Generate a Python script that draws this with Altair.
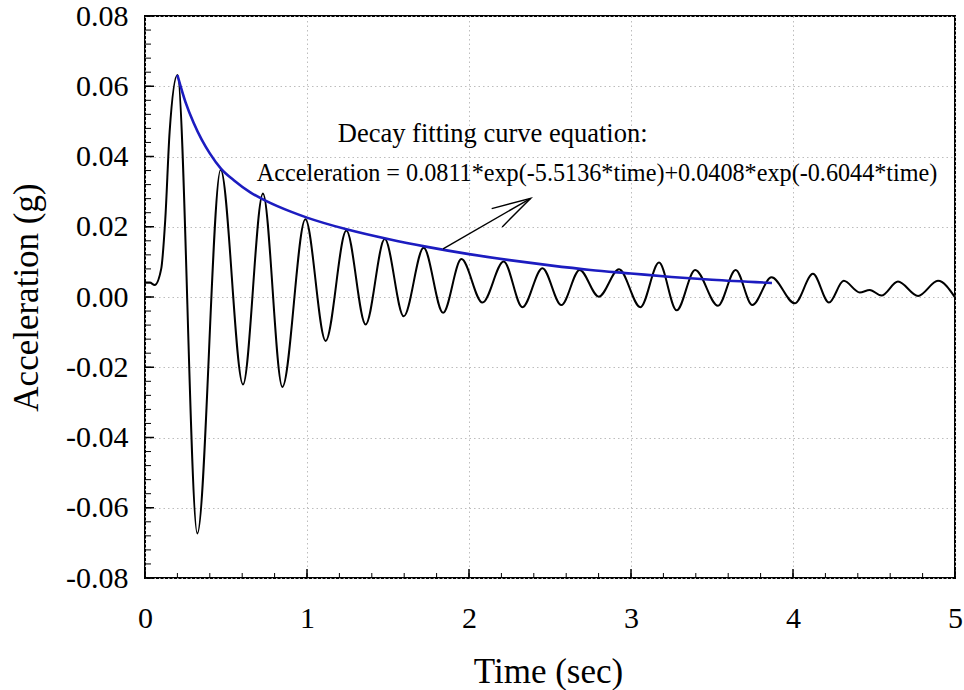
import altair as alt
import pandas as pd

# ---- data ----
# measured acceleration signal (time in sec, acceleration in g) - extrema and shape points
sig_t = [0.0, 0.03, 0.06, 0.10, 0.125, 0.152, 0.200, 0.323, 0.467, 0.605, 0.728, 0.848,
         0.990, 1.115, 1.243, 1.362, 1.480, 1.597, 1.720, 1.840, 1.953, 2.083, 2.214,
         2.330, 2.453, 2.570, 2.683, 2.801, 2.926, 3.058, 3.173, 3.282, 3.396, 3.537,
         3.646, 3.749, 3.867, 4.011, 4.123, 4.222, 4.313, 4.412, 4.474, 4.546, 4.648,
         4.772, 4.895, 5.0]
sig_v = [0.0041, 0.0041, 0.0034, 0.0080, 0.0220, 0.0470, 0.0632, -0.0673, 0.0362, -0.0249,
         0.0295, -0.0256, 0.0221, -0.0125, 0.0189, -0.0078, 0.0165, -0.0055, 0.0140,
         -0.0045, 0.0108, -0.0016, 0.0101, -0.0029, 0.0082, -0.0023, 0.0077, 0.0001,
         0.0079, -0.0029, 0.0098, -0.0038, 0.0077, -0.0025, 0.0077, -0.0023, 0.0056,
         -0.0018, 0.0066, -0.0016, 0.0046, 0.0013, 0.0020, 0.0004, 0.0044, 0.0003,
         0.0046, -0.0001]

# decay fitting curve (blue)
fit_t = [0.20, 0.25, 0.30, 0.35, 0.40, 0.47, 0.55, 0.65, 0.75, 0.90, 1.00, 1.25, 1.50,
         1.75, 2.00, 2.25, 2.50, 2.75, 3.00, 3.25, 3.50, 3.87]
fit_v = [0.0632, 0.0555, 0.0496, 0.0448, 0.0409, 0.0365, 0.0332, 0.0298, 0.0273, 0.0243,
         0.0226, 0.0192, 0.0165, 0.0142, 0.0122, 0.0105, 0.0090, 0.0077, 0.0067, 0.0057,
         0.0049, 0.0040]

# annotation
note_text = ["Decay fitting curve equation:",
             "Acceleration = 0.0811*exp(-5.5136*time)+0.0408*exp(-0.6044*time)"]
note_t = [1.190, 0.690]
note_v = [0.0440, 0.0331]
arrow_t = [1.840, 2.381]
arrow_v = [0.0137, 0.0281]

# axes
x_major = [0, 1, 2, 3, 4, 5]
x_minor = [round(i * 0.2, 2) for i in range(26)]
y_major = [-0.08, -0.06, -0.04, -0.02, 0.0, 0.02, 0.04, 0.06, 0.08]
y_minor = [round(-0.08 + i * 0.004, 3) for i in range(41)]

FONT = "Liberation Serif"
W, H = 810, 562

xs = alt.Scale(domain=[0, 5], nice=False, zero=False)
ys = alt.Scale(domain=[-0.08, 0.08], nice=False, zero=False)

sig = pd.DataFrame({"t": sig_t, "v": sig_v})
fit = pd.DataFrame({"t": fit_t, "v": fit_v})
arrow = pd.DataFrame({"t": arrow_t, "v": arrow_v})
notes = pd.DataFrame({"t": note_t, "v": note_v, "text": note_text})

x_axis = alt.Axis(values=x_major, format="d", grid=True, ticks=False, tickSize=0,
                  domain=False, labelFont=FONT, labelFontSize=30, labelColor="black",
                  labelPadding=25, labelBaseline="top", labelFlush=False, labelOverlap=False,
                  title="Time (sec)", titleFont=FONT, titleFontSize=35,
                  titleFontWeight="normal", titleColor="black",
                  titleX=403, titleY=104, titleBaseline="alphabetic", titleAlign="center",
                  gridColor="#bdbdbd", gridDash=[1.5, 3], gridWidth=1)
y_axis = alt.Axis(values=y_major, grid=True, ticks=False, tickSize=0, domain=False,
                  labelExpr="(datum.value < -0.000001 ? '-' : '') + format(abs(datum.value), '.2f')",
                  labelFont=FONT, labelFontSize=30, labelColor="black", labelPadding=17,
                  labelFlush=False, labelOverlap=False,
                  title="Acceleration (g)", titleFont=FONT, titleFontSize=35,
                  titleFontWeight="normal", titleColor="black", titleAngle=-90,
                  titleX=-108, titleY=281, titleBaseline="alphabetic", titleAlign="center",
                  gridColor="#bdbdbd", gridDash=[1.5, 3], gridWidth=1)

X = alt.X("t:Q", scale=xs, axis=x_axis)
Y = alt.Y("v:Q", scale=ys, axis=y_axis)

signal = alt.Chart(sig).mark_line(color="black", strokeWidth=2, interpolate="monotone").encode(x=X, y=Y)

fitline = alt.Chart(fit).mark_line(color="#1c1cc0", strokeWidth=2.6, interpolate="monotone").encode(x=X, y=Y)

shaft = alt.Chart(arrow).mark_line(color="black", strokeWidth=1.4).encode(x=X, y=Y)

head = alt.Chart(arrow.tail(1)).mark_point(
    shape="M -0.27 1 L 0 0 L 0.27 1", filled=False, color="black", strokeWidth=1.4,
    size=6084, angle=60, opacity=1
).encode(x=X, y=Y)

text1 = alt.Chart(notes.head(1)).mark_text(
    font=FONT, fontSize=26.5, align="left", baseline="alphabetic", color="black"
).encode(x=X, y=Y, text="text:N")
text2 = alt.Chart(notes.tail(1)).mark_text(
    font=FONT, fontSize=24.2, align="left", baseline="alphabetic", color="black"
).encode(x=X, y=Y, text="text:N")

# inward ticks
xmaj = alt.Chart(pd.DataFrame({"t": x_major})).mark_rule(color="black", strokeWidth=1.5).encode(
    x=X, y=alt.value(H), y2=alt.value(H - 9))
xmin = alt.Chart(pd.DataFrame({"t": x_minor})).mark_rule(color="black", strokeWidth=1).encode(
    x=X, y=alt.value(H), y2=alt.value(H - 5))
ymaj = alt.Chart(pd.DataFrame({"v": y_major})).mark_rule(color="black", strokeWidth=1.5).encode(
    y=Y, x=alt.value(0), x2=alt.value(9))
ymin = alt.Chart(pd.DataFrame({"v": y_minor})).mark_rule(color="black", strokeWidth=1).encode(
    y=Y, x=alt.value(0), x2=alt.value(6))

chart = alt.layer(
    signal, fitline, shaft, head, text1, text2, xmaj, xmin, ymaj, ymin
).properties(
    width=W, height=H,
    padding={"left": 145, "top": 16, "right": 9, "bottom": 112},
    autosize=alt.AutoSizeParams(type="none"),
    background="white",
).configure_axis(
    labelFont=FONT, titleFont=FONT
).configure_view(
    stroke="black", strokeWidth=2
)

chart.save("out.html", embed_options={"renderer": "svg", "actions": False})
